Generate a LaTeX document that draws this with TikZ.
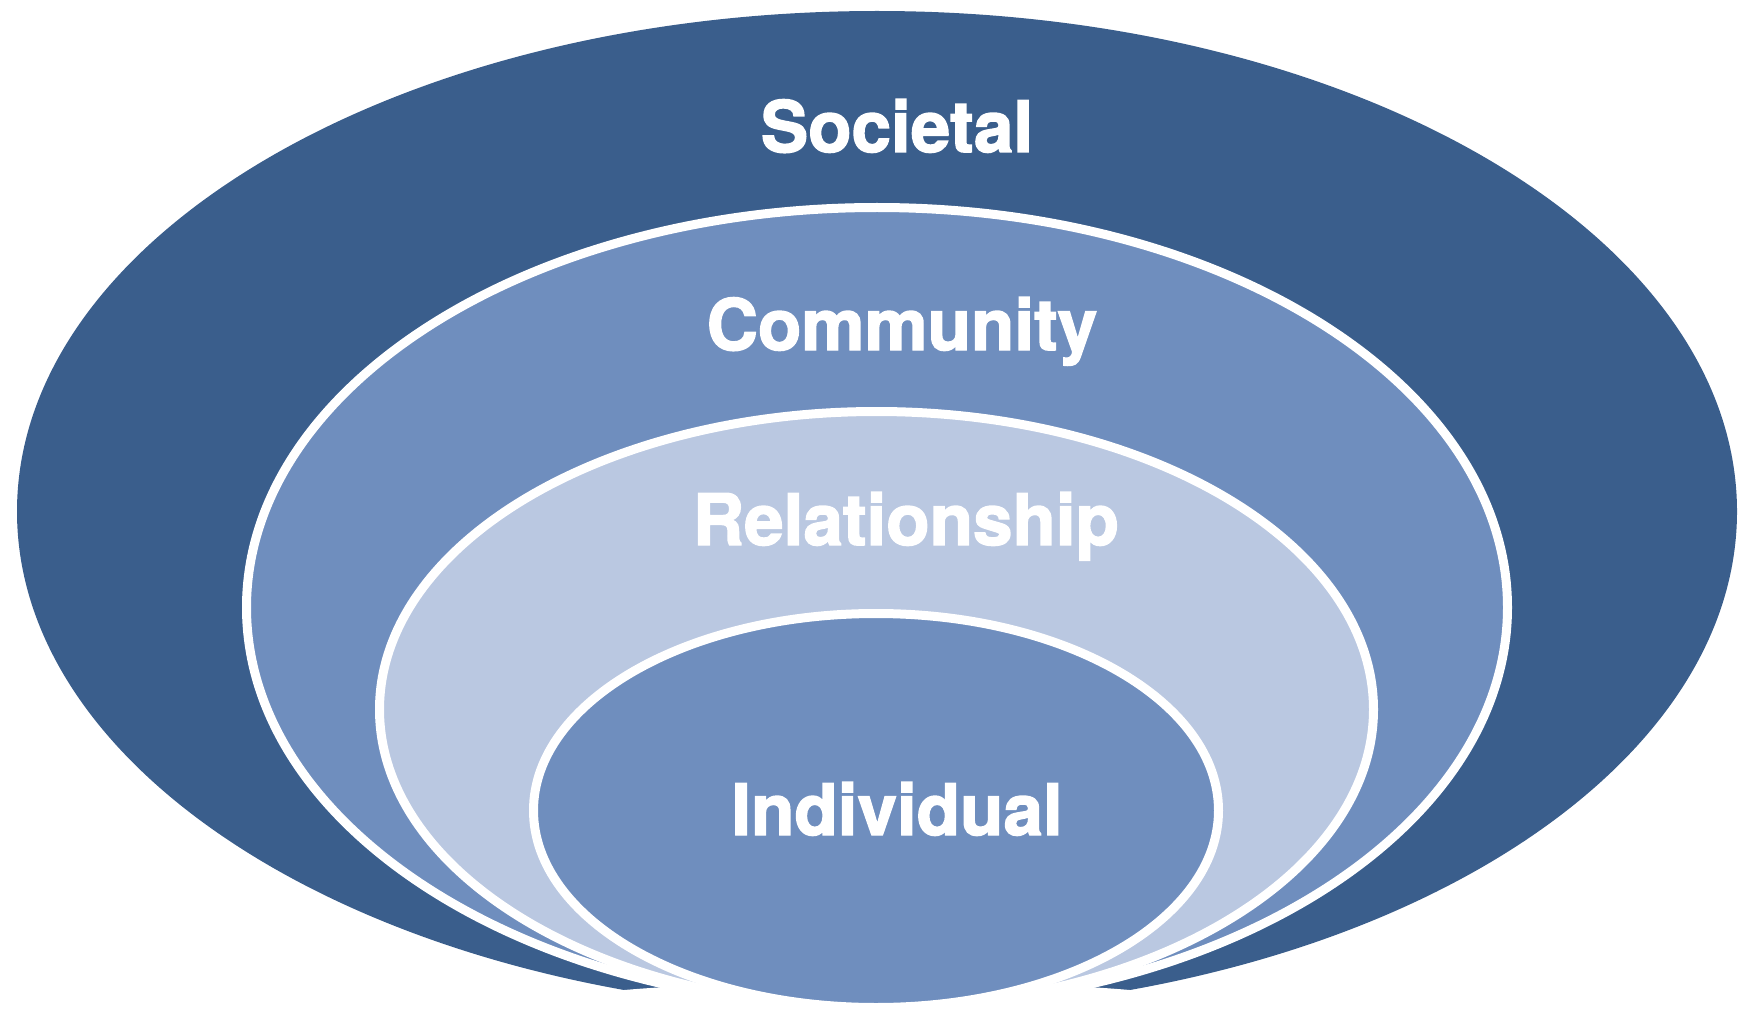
\documentclass[tikz,border=0pt]{standalone}
\usepackage{fontspec}
\setmainfont{TeX Gyre Heros}[BoldFeatures={FakeBold=2}]
\definecolor{darkring}{RGB}{58,94,140}
\definecolor{midring}{RGB}{111,142,190}
\definecolor{lightring}{RGB}{186,200,225}
\tikzset{
  ring/.style={draw=white, line width=9pt},
  label/.style={text=white, font=\bfseries\fontsize{71}{80}\selectfont, anchor=base, inner sep=0pt}
}
\begin{document}
\begin{tikzpicture}[x=1pt,y=-1pt]
\useasboundingbox (0,0) rectangle (1743,1016);
% outer (societal)
\fill[darkring] (877,511.5) ellipse [x radius=860, y radius=500.5];
% community
\filldraw[ring, fill=midring] (877,607.5) ellipse [x radius=630.5, y radius=400];
% relationship
\filldraw[ring, fill=lightring] (876.5,709.5) ellipse [x radius=497, y radius=298];
% white fade where the rings meet at the bottom
\fill[white] (470,1016) .. controls (560,990) and (680,982) .. (877,982)
  .. controls (1074,982) and (1194,990) .. (1284,1016) -- cycle;
% individual
\filldraw[ring, fill=midring] (876,810.5) ellipse [x radius=342.5, y radius=197];
\node[label] (soc) at (897,152) {Societal};
\node[label] (com) at (902,350) {Community};
\node[label] (rel) at (906,545) {Relationship};
\node[label] (ind) at (897,835) {Individual};
\end{tikzpicture}
\end{document}
